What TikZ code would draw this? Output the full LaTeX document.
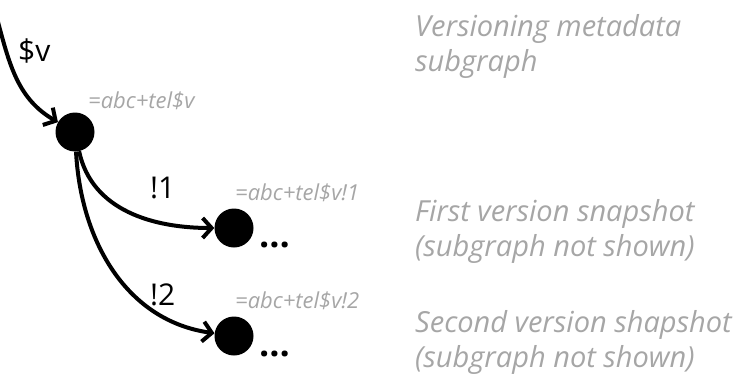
\documentclass[tikz,border=0pt]{standalone}
\usepackage{fontspec}
\setmainfont{Open Sans}
\usetikzlibrary{arrows.meta}

\begin{document}
\begin{tikzpicture}[x=1pt, y=1pt]


\def\lineWidth{4}
\def\bigSize{30}
\def\noteSize{29}
\def\idSize{22}
\definecolor{notegray}{RGB}{166,166,166}
\tikzset{
  vertex/.style={circle, fill=black, inner sep=0pt, minimum size=39pt},
  link/.style={line width=\lineWidth pt, -{Straight Barb[length=9pt, width=20pt]}},
  edgelabel/.style={anchor=base west, inner sep=0pt, font=\fontsize{\bigSize}{\bigSize}\selectfont},
  morelabel/.style={anchor=base west, inner sep=0pt, font=\fontsize{36}{36}\selectfont\bfseries},
  idlabel/.style={anchor=base west, inner sep=0pt, text=notegray, font=\fontsize{\idSize}{\idSize}\selectfont\itshape},
  note/.style={anchor=base west, inner sep=0pt, align=left, text=notegray, font=\fontsize{\noteSize}{35}\selectfont\itshape}
}

\useasboundingbox (0,0) rectangle (735,381);

\coordinate (parent) at (-2,359);
\node[vertex] (meta) at (75,249) {};
\node[vertex] (snap-one) at (234,153) {};
\node[vertex] (snap-two) at (234,45) {};


%DRAW

\draw[link] (parent) to[out=-75, in=150] (meta);
\draw[link] (meta) to[out=-78, in=180] (snap-one);
\draw[link] (meta) to[out=-87, in=172, looseness=1] (snap-two);

\node[edgelabel] (v-label) at (18,319) {\$v};
\node[edgelabel] (one-label) at (150,183) {!1};
\node[edgelabel] (two-label) at (150,76) {!2};

\node[idlabel] (meta-id) at (88,273) {=abc+tel\$v};
\node[idlabel] (snap-one-id) at (235,181) {=abc+tel\$v!1};
\node[idlabel] (snap-two-id) at (235,73) {=abc+tel\$v!2};

\node[morelabel] (snap-one-more) at (259,134) {\ldots};
\node[morelabel] (snap-two-more) at (259,25) {\ldots};

% base of a two-line note sits on its second line
\node[note] (meta-note) at (415,309) {Versioning metadata\\subgraph};
\node[note] (snap-one-note) at (415,125) {First version snapshot\\(subgraph not shown)};
\node[note] (snap-two-note) at (415,14) {Second version shapshot\\(subgraph not shown)};


\end{tikzpicture}
\end{document}
